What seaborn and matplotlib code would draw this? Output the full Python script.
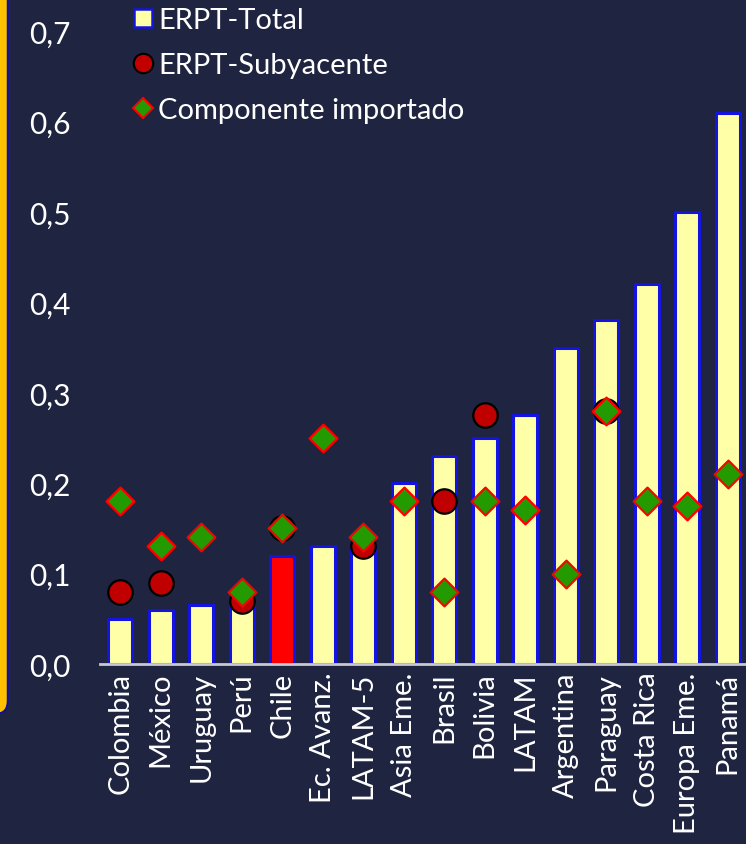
import numpy as np
import pandas as pd
import matplotlib
matplotlib.use("Agg")
import matplotlib.pyplot as plt
import seaborn as sns
from matplotlib.lines import Line2D
from matplotlib.patches import FancyBboxPatch
from matplotlib.ticker import FixedLocator, FuncFormatter

categories = ["Colombia", "México", "Uruguay", "Perú", "Chile", "Ec. Avanz.", "LATAM-5",
              "Asia Eme.", "Brasil", "Bolivia", "LATAM", "Argentina", "Paraguay",
              "Costa Rica", "Europa Eme.", "Panamá"]
erpt_total = [0.05, 0.06, 0.065, 0.065, 0.12, 0.13, 0.13, 0.20, 0.23, 0.25, 0.275,
              0.35, 0.38, 0.42, 0.50, 0.61]
erpt_suby = [0.08, 0.09, np.nan, 0.07, 0.15, np.nan, 0.13, np.nan, 0.18, 0.275, np.nan,
             np.nan, 0.28, np.nan, np.nan, np.nan]
comp_imp = [0.18, 0.13, 0.14, 0.08, 0.15, 0.25, 0.14, 0.18, 0.08, 0.18, 0.17, 0.10,
            0.28, 0.18, 0.175, 0.21]
yticks = [0.0, 0.1, 0.2, 0.3, 0.4, 0.5, 0.6, 0.7]
highlight = "Chile"

BG = "#1F2440"
YELLOW = "#FFFFA8"
BLUE_EDGE = "#1414E0"
RED_BAR = "#FF0000"
DOT_RED = "#C00000"
GREEN = "#239B00"
ORANGE = "#FFC000"

sns.set_theme(style="dark")
plt.rcParams["font.family"] = ["Lato", "DejaVu Sans"]

df = pd.DataFrame({"cat": categories, "total": erpt_total, "suby": erpt_suby, "imp": comp_imp})
palette = {c: (RED_BAR if c == highlight else YELLOW) for c in categories}

fig = plt.figure(figsize=(7.46, 8.45), dpi=100)
fig.patch.set_facecolor(BG)
ax = fig.add_axes([100/746, 180/845, 648/746, 665/845])
ax.set_facecolor(BG)

sns.barplot(data=df, x="cat", y="total", hue="cat", palette=palette, dodge=False,
            legend=False, width=0.6, saturation=1, edgecolor=BLUE_EDGE, linewidth=2.2,
            ax=ax, zorder=2)

sns.scatterplot(data=df, x="cat", y="suby", marker="o", s=310, color=DOT_RED,
                edgecolor="black", linewidth=1.6, ax=ax, zorder=3, legend=False)
sns.scatterplot(data=df, x="cat", y="imp", marker="D", s=200, color=GREEN,
                edgecolor="#FF0000", linewidth=1.6, ax=ax, zorder=4, legend=False)

ax.set_xlim(-0.5, 15.5)
ax.set_ylim(0, 0.7356)
ax.yaxis.set_major_locator(FixedLocator(yticks))
ax.yaxis.set_major_formatter(FuncFormatter(lambda v, p: f"{v:.1f}".replace(".", ",")))
ax.set_xlabel("")
ax.set_ylabel("")
ax.grid(False)
for s in ["left", "right", "top"]:
    ax.spines[s].set_visible(False)
ax.spines["bottom"].set_visible(True)
ax.spines["bottom"].set_color("#C8C8D0")
ax.spines["bottom"].set_linewidth(2)
ax.tick_params(axis="y", length=0, pad=21.5, labelsize=21.5, labelcolor="white")
ax.tick_params(axis="x", length=0, pad=5.5, labelsize=21, labelcolor="white", rotation=90)
for lab in ax.get_xticklabels():
    lab.set_verticalalignment("top")

handles = [
    Line2D([], [], linestyle="none", marker="s", markersize=13, markerfacecolor=YELLOW,
           markeredgecolor=BLUE_EDGE, markeredgewidth=1.8),
    Line2D([], [], linestyle="none", marker="o", markersize=14, markerfacecolor=DOT_RED,
           markeredgecolor="black", markeredgewidth=1.5),
    Line2D([], [], linestyle="none", marker="D", markersize=10, markerfacecolor=GREEN,
           markeredgecolor="#FF0000", markeredgewidth=1.5),
]
labels = ["ERPT-Total", "ERPT-Subyacente", "Componente importado"]
leg = ax.legend(handles, labels, loc="upper left", bbox_to_anchor=(131/746, 1 - 8/845),
                bbox_transform=fig.transFigure, frameon=False, fontsize=21,
                handlelength=0.8, handletextpad=0.14, labelspacing=0.66, borderpad=0,
                borderaxespad=0)
for t in leg.get_texts():
    t.set_color("white")

frame = FancyBboxPatch((-1.0, 1.30), 1.078, 8.5,
                       boxstyle="round,pad=0,rounding_size=0.13",
                       facecolor=ORANGE, edgecolor="#1010A0", linewidth=1.5,
                       transform=fig.dpi_scale_trans, zorder=0)
fig.patches.append(frame)

fig.savefig("out.png", dpi=100, facecolor=BG)
